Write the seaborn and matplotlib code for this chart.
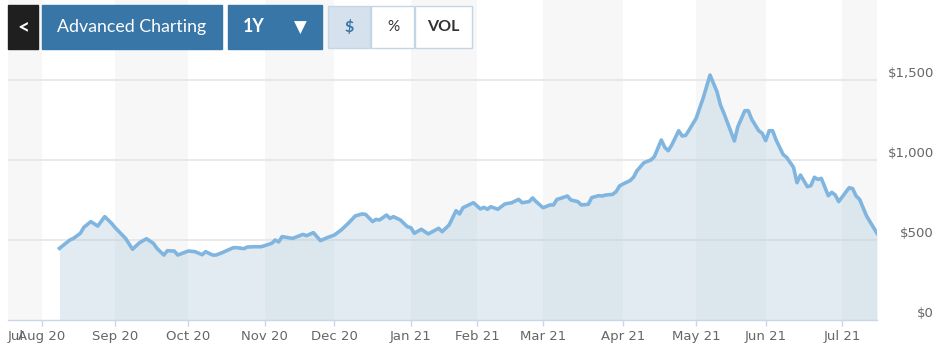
import pandas as pd
import matplotlib
matplotlib.use("Agg")
import matplotlib.pyplot as plt
import matplotlib.transforms as mtransforms
from matplotlib.patches import Rectangle
import seaborn as sns

# Data (closing prices, USD)
dates = ["2020-08-10", "2020-08-13", "2020-08-14", "2020-08-18", "2020-08-19", "2020-08-21", "2020-08-25", "2020-08-27", "2020-08-31",
         "2020-09-01", "2020-09-04", "2020-09-09", "2020-09-11", "2020-09-15", "2020-09-17", "2020-09-18", "2020-09-22", "2020-09-23", "2020-09-25", "2020-09-28",
         "2020-10-01", "2020-10-05", "2020-10-07", "2020-10-08", "2020-10-12", "2020-10-13", "2020-10-15", "2020-10-16", "2020-10-20", "2020-10-21", "2020-10-23", "2020-10-26", "2020-10-28", "2020-10-30",
         "2020-11-04", "2020-11-05", "2020-11-06", "2020-11-09", "2020-11-12", "2020-11-17", "2020-11-18", "2020-11-20", "2020-11-24", "2020-11-27",
         "2020-12-01", "2020-12-03", "2020-12-07", "2020-12-09", "2020-12-11", "2020-12-14", "2020-12-16", "2020-12-17", "2020-12-18", "2020-12-22", "2020-12-23", "2020-12-24", "2020-12-29", "2020-12-31",
         "2021-01-04", "2021-01-05", "2021-01-07", "2021-01-11", "2021-01-14", "2021-01-15", "2021-01-20", "2021-01-22", "2021-01-25", "2021-01-26", "2021-01-29",
         "2021-02-02", "2021-02-03", "2021-02-04", "2021-02-05", "2021-02-09", "2021-02-11", "2021-02-16", "2021-02-18", "2021-02-19", "2021-02-23", "2021-02-24", "2021-02-25",
         "2021-03-01", "2021-03-03", "2021-03-04", "2021-03-05", "2021-03-08", "2021-03-10", "2021-03-11", "2021-03-15", "2021-03-16", "2021-03-18", "2021-03-19", "2021-03-23", "2021-03-24", "2021-03-25", "2021-03-29", "2021-03-30", "2021-03-31",
         "2021-04-01", "2021-04-06", "2021-04-07", "2021-04-08", "2021-04-12", "2021-04-14", "2021-04-15", "2021-04-19", "2021-04-20", "2021-04-21", "2021-04-22", "2021-04-26", "2021-04-27", "2021-04-28", "2021-04-29",
         "2021-05-03", "2021-05-05", "2021-05-07", "2021-05-11", "2021-05-12", "2021-05-13", "2021-05-18", "2021-05-19", "2021-05-21", "2021-05-24", "2021-05-25", "2021-05-27", "2021-05-28",
         "2021-06-01", "2021-06-02", "2021-06-03", "2021-06-04", "2021-06-08", "2021-06-09", "2021-06-11", "2021-06-14", "2021-06-15", "2021-06-17", "2021-06-18", "2021-06-21", "2021-06-22", "2021-06-23", "2021-06-25", "2021-06-28", "2021-06-29", "2021-06-30",
         "2021-07-06", "2021-07-07", "2021-07-08", "2021-07-09", "2021-07-13", "2021-07-16"]
prices = [448, 500, 510, 542, 579, 615, 587, 646, 604,
          577, 510, 442, 483, 508, 479, 448, 406, 433, 431, 406,
          431, 427, 408, 427, 406, 406, 423, 433, 452, 452, 446, 456, 458, 458,
          479, 500, 488, 521, 510, 535, 527, 546, 496, 515,
          531, 563, 604, 650, 663, 660, 615, 629, 625, 656, 635, 646, 625, 583,
          577, 542, 567, 538, 573, 552, 594, 683, 663, 702, 733,
          694, 704, 692, 708, 692, 725, 733, 754, 733, 740, 763, 740,
          702, 719, 719, 754, 760, 775, 750, 740, 719, 723, 765, 777, 775, 781, 785, 802, 838,
          850, 871, 892, 933, 983, 1000, 1021, 1125, 1079, 1058, 1094, 1183, 1150, 1154, 1188,
          1260, 1385, 1531, 1427, 1344, 1292, 1119, 1208, 1308, 1308, 1254, 1183, 1167,
          1121, 1183, 1183, 1125, 1035, 1017, 954, 858, 906, 833, 840, 892, 879, 885, 777, 798, 781, 740,
          827, 821, 775, 754, 650, 542]
y_ticks = [0, 500, 1000, 1500]
y_labels = ["$0", "$500", "$1,000", "$1,500"]
holidays = ["2020-09-07", "2020-11-26", "2020-12-25", "2021-01-01", "2021-01-18",
            "2021-02-15", "2021-04-02", "2021-05-31", "2021-07-05"]

# Trading-day axis (weekends and market holidays removed)
sessions = pd.bdate_range("2020-08-03", "2021-07-16", freq="C", holidays=holidays)
df = pd.DataFrame({"date": pd.to_datetime(dates), "price": prices})
df["pos"] = sessions.get_indexer(df["date"])

month_first = pd.Series(sessions).groupby(sessions.to_period("M")).first()
month_pos = [sessions.get_loc(d) for d in month_first]
month_lbl = [d.strftime("%b %y") for d in month_first]

W, H = 949, 353
plt.rcParams['font.family'] = ['DejaVu Sans']
fig = plt.figure(figsize=(W / 100, H / 100), dpi=100)
ax = fig.add_axes([8 / W, 1 - 320 / H, 869 / W, 320 / H])

x0, x1 = -9.8, 240
ax.set_xlim(x0, x1)
ax.set_ylim(0, 2000)

# alternating month bands
edges = [x0] + month_pos + [x1]
for i in range(len(edges) - 1):
    if i % 2 == 0:
        ax.axvspan(edges[i], edges[i + 1], color="#f7f7f7", lw=0, zorder=0)

for v in y_ticks[1:]:
    ax.axhline(v, color="#e3e3e3", lw=1.1, zorder=1)

ax.fill_between(df["pos"], df["price"], color="#b4cdde", alpha=0.4, lw=0, zorder=2)
sns.lineplot(data=df, x="pos", y="price", ax=ax, color="#80b5e0", linewidth=2.6, zorder=3)

for s in ["top", "left", "right"]:
    ax.spines[s].set_visible(False)
ax.spines["bottom"].set_color("#ccd6eb")
ax.spines["bottom"].set_linewidth(1)
ax.set_xlabel("")
ax.set_ylabel("")

ax.set_xticks(month_pos, labels=month_lbl)
ax.tick_params(axis="x", which="major", length=4, width=1, color="#ccd6eb",
               labelsize=9.5, labelcolor="#666666", pad=3)
ax.set_xticks([x0], labels=["Jul"], minor=True)
ax.tick_params(axis="x", which="minor", length=0, labelsize=9.5, labelcolor="#666666", pad=7)
for lbl in ax.get_xticklabels(minor=True):
    lbl.set_ha("left")

ax.yaxis.tick_right()
ax.set_yticks(y_ticks, labels=y_labels)
ax.tick_params(axis="y", length=0, labelsize=9.5, labelcolor="#666666", pad=41)
shift = mtransforms.ScaledTranslation(0, 8 / 100, fig.dpi_scale_trans)
for lbl in ax.get_yticklabels():
    lbl.set_ha("right")
    lbl.set_transform(lbl.get_transform() + shift)


# toolbar buttons on top of the chart
def box(xa, ya, xb, yb, face, edge=None):
    fig.add_artist(Rectangle((xa / W, 1 - yb / H), (xb - xa) / W, (yb - ya) / H,
                             transform=fig.transFigure, facecolor=face,
                             edgecolor=edge or face, lw=1, zorder=5))


def label(x, y, s, **kw):
    fig.text(x / W, 1 - y / H, s, ha="center", va="center", zorder=6, **kw)


blue = "#3776a6"
box(8, 5, 38, 49, "#1f1f1f")
label(23, 27, "<", color="white", fontsize=15, fontweight="bold", family=["Lato", "DejaVu Sans"])
box(42, 5, 222, 49, blue)
label(132, 27, "Advanced Charting", color="white", fontsize=12.8, family=["Lato", "DejaVu Sans"])
box(228, 5, 322, 49, blue)
label(254, 27, "1Y", color="white", fontsize=12.8, fontweight="bold", family=["Lato", "DejaVu Sans"])
label(300, 28, "▼", color="white", fontsize=12, family=["DejaVu Sans"])
box(328, 6, 370, 48, "#d5e2ee", "#c4d6e6")
box(371, 6, 414, 48, "white", "#c4d6e6")
box(415, 6, 472, 48, "white", "#c4d6e6")
label(349, 27, "$", color=blue, fontsize=11.5, fontweight="bold", family=["Lato", "DejaVu Sans"])
label(393, 27, "%", color="#333333", fontsize=11, family=["Lato", "DejaVu Sans"])
label(443, 27, "VOL", color="#333333", fontsize=11.5, fontweight="bold", family=["Lato", "DejaVu Sans"])

fig.savefig("out.png", dpi=100)
